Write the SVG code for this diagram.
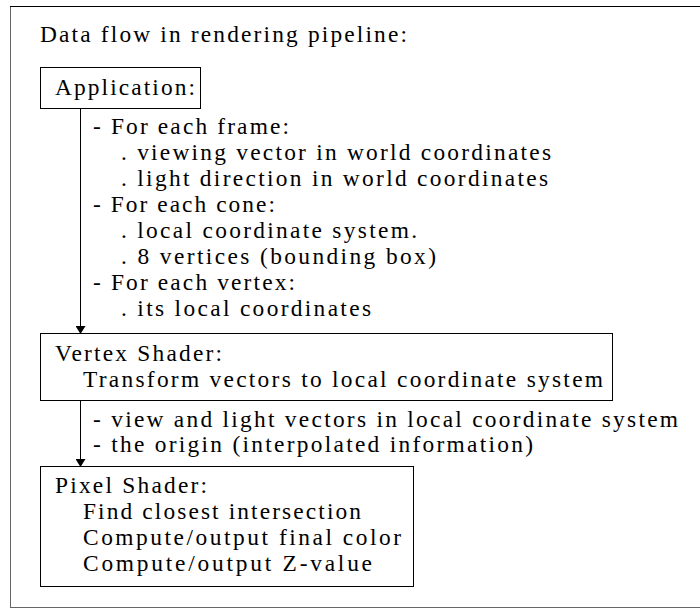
<svg xmlns="http://www.w3.org/2000/svg" width="700" height="608" viewBox="0 0 700 608">
<style>
text{font-family:"Liberation Serif","Times New Roman",serif;font-size:23.4px;fill:#000}
.box{fill:none;stroke:#000;stroke-width:1}
.frame{fill:none;stroke:#666;stroke-width:1}
.conn{stroke:#000;stroke-width:1;fill:none}
</style>
<defs>
<marker id="ah" markerWidth="8" markerHeight="10" refX="7" refY="5" orient="auto" markerUnits="userSpaceOnUse" viewBox="0 0 8 10">
<path d="M0,0 L8,5 L0,10 Z" fill="#000"/>
</marker>
</defs>
<rect class="frame" x="10.5" y="6.5" width="700" height="601"/>
<line x1="10" y1="6.5" x2="700" y2="6.5" stroke="#000" stroke-width="1"/>
<text x="40" y="42" textLength="367" lengthAdjust="spacing">Data flow in rendering pipeline:</text>
<g id="connectors">
<line class="conn" x1="80.5" y1="108" x2="80.5" y2="333" marker-end="url(#ah)"/>
<line class="conn" x1="80.5" y1="401" x2="80.5" y2="466" marker-end="url(#ah)"/>
<g id="label-app-to-vertex">
<text x="93" y="134" textLength="196" lengthAdjust="spacing">- For each frame:</text>
<text x="121" y="160" textLength="430" lengthAdjust="spacing">. viewing vector in world coordinates</text>
<text x="121" y="186" textLength="427" lengthAdjust="spacing">. light direction in world coordinates</text>
<text x="93" y="212" textLength="182" lengthAdjust="spacing">- For each cone:</text>
<text x="121" y="238" textLength="296" lengthAdjust="spacing">. local coordinate system.</text>
<text x="121" y="264" textLength="315" lengthAdjust="spacing">. 8 vertices (bounding box)</text>
<text x="93" y="290" textLength="202" lengthAdjust="spacing">- For each vertex:</text>
<text x="121" y="316" textLength="250" lengthAdjust="spacing">. its local coordinates</text>
</g>
<g id="label-vertex-to-pixel">
<text x="93" y="427" textLength="585" lengthAdjust="spacing">- view and light vectors in local coordinate system</text>
<text x="93" y="452" textLength="440" lengthAdjust="spacing">- the origin (interpolated information)</text>
</g>
</g>
<g id="application">
<rect class="box" x="40.5" y="67.5" width="160" height="41"/>
<text x="55" y="95" textLength="140" lengthAdjust="spacing">Application:</text>
</g>
<g id="vertex-shader">
<rect class="box" x="40.5" y="333.5" width="572" height="67"/>
<text x="55" y="361" textLength="167" lengthAdjust="spacing">Vertex Shader:</text>
<text x="83" y="387" textLength="520" lengthAdjust="spacing">Transform vectors to local coordinate system</text>
</g>
<g id="pixel-shader">
<rect class="box" x="40.5" y="466.5" width="373" height="120"/>
<text x="55" y="493" textLength="152" lengthAdjust="spacing">Pixel Shader:</text>
<text x="83" y="519" textLength="278" lengthAdjust="spacing">Find closest intersection</text>
<text x="83" y="545" textLength="318" lengthAdjust="spacing">Compute/output final color</text>
<text x="83" y="571" textLength="289" lengthAdjust="spacing">Compute/output Z-value</text>
</g>
</svg>
